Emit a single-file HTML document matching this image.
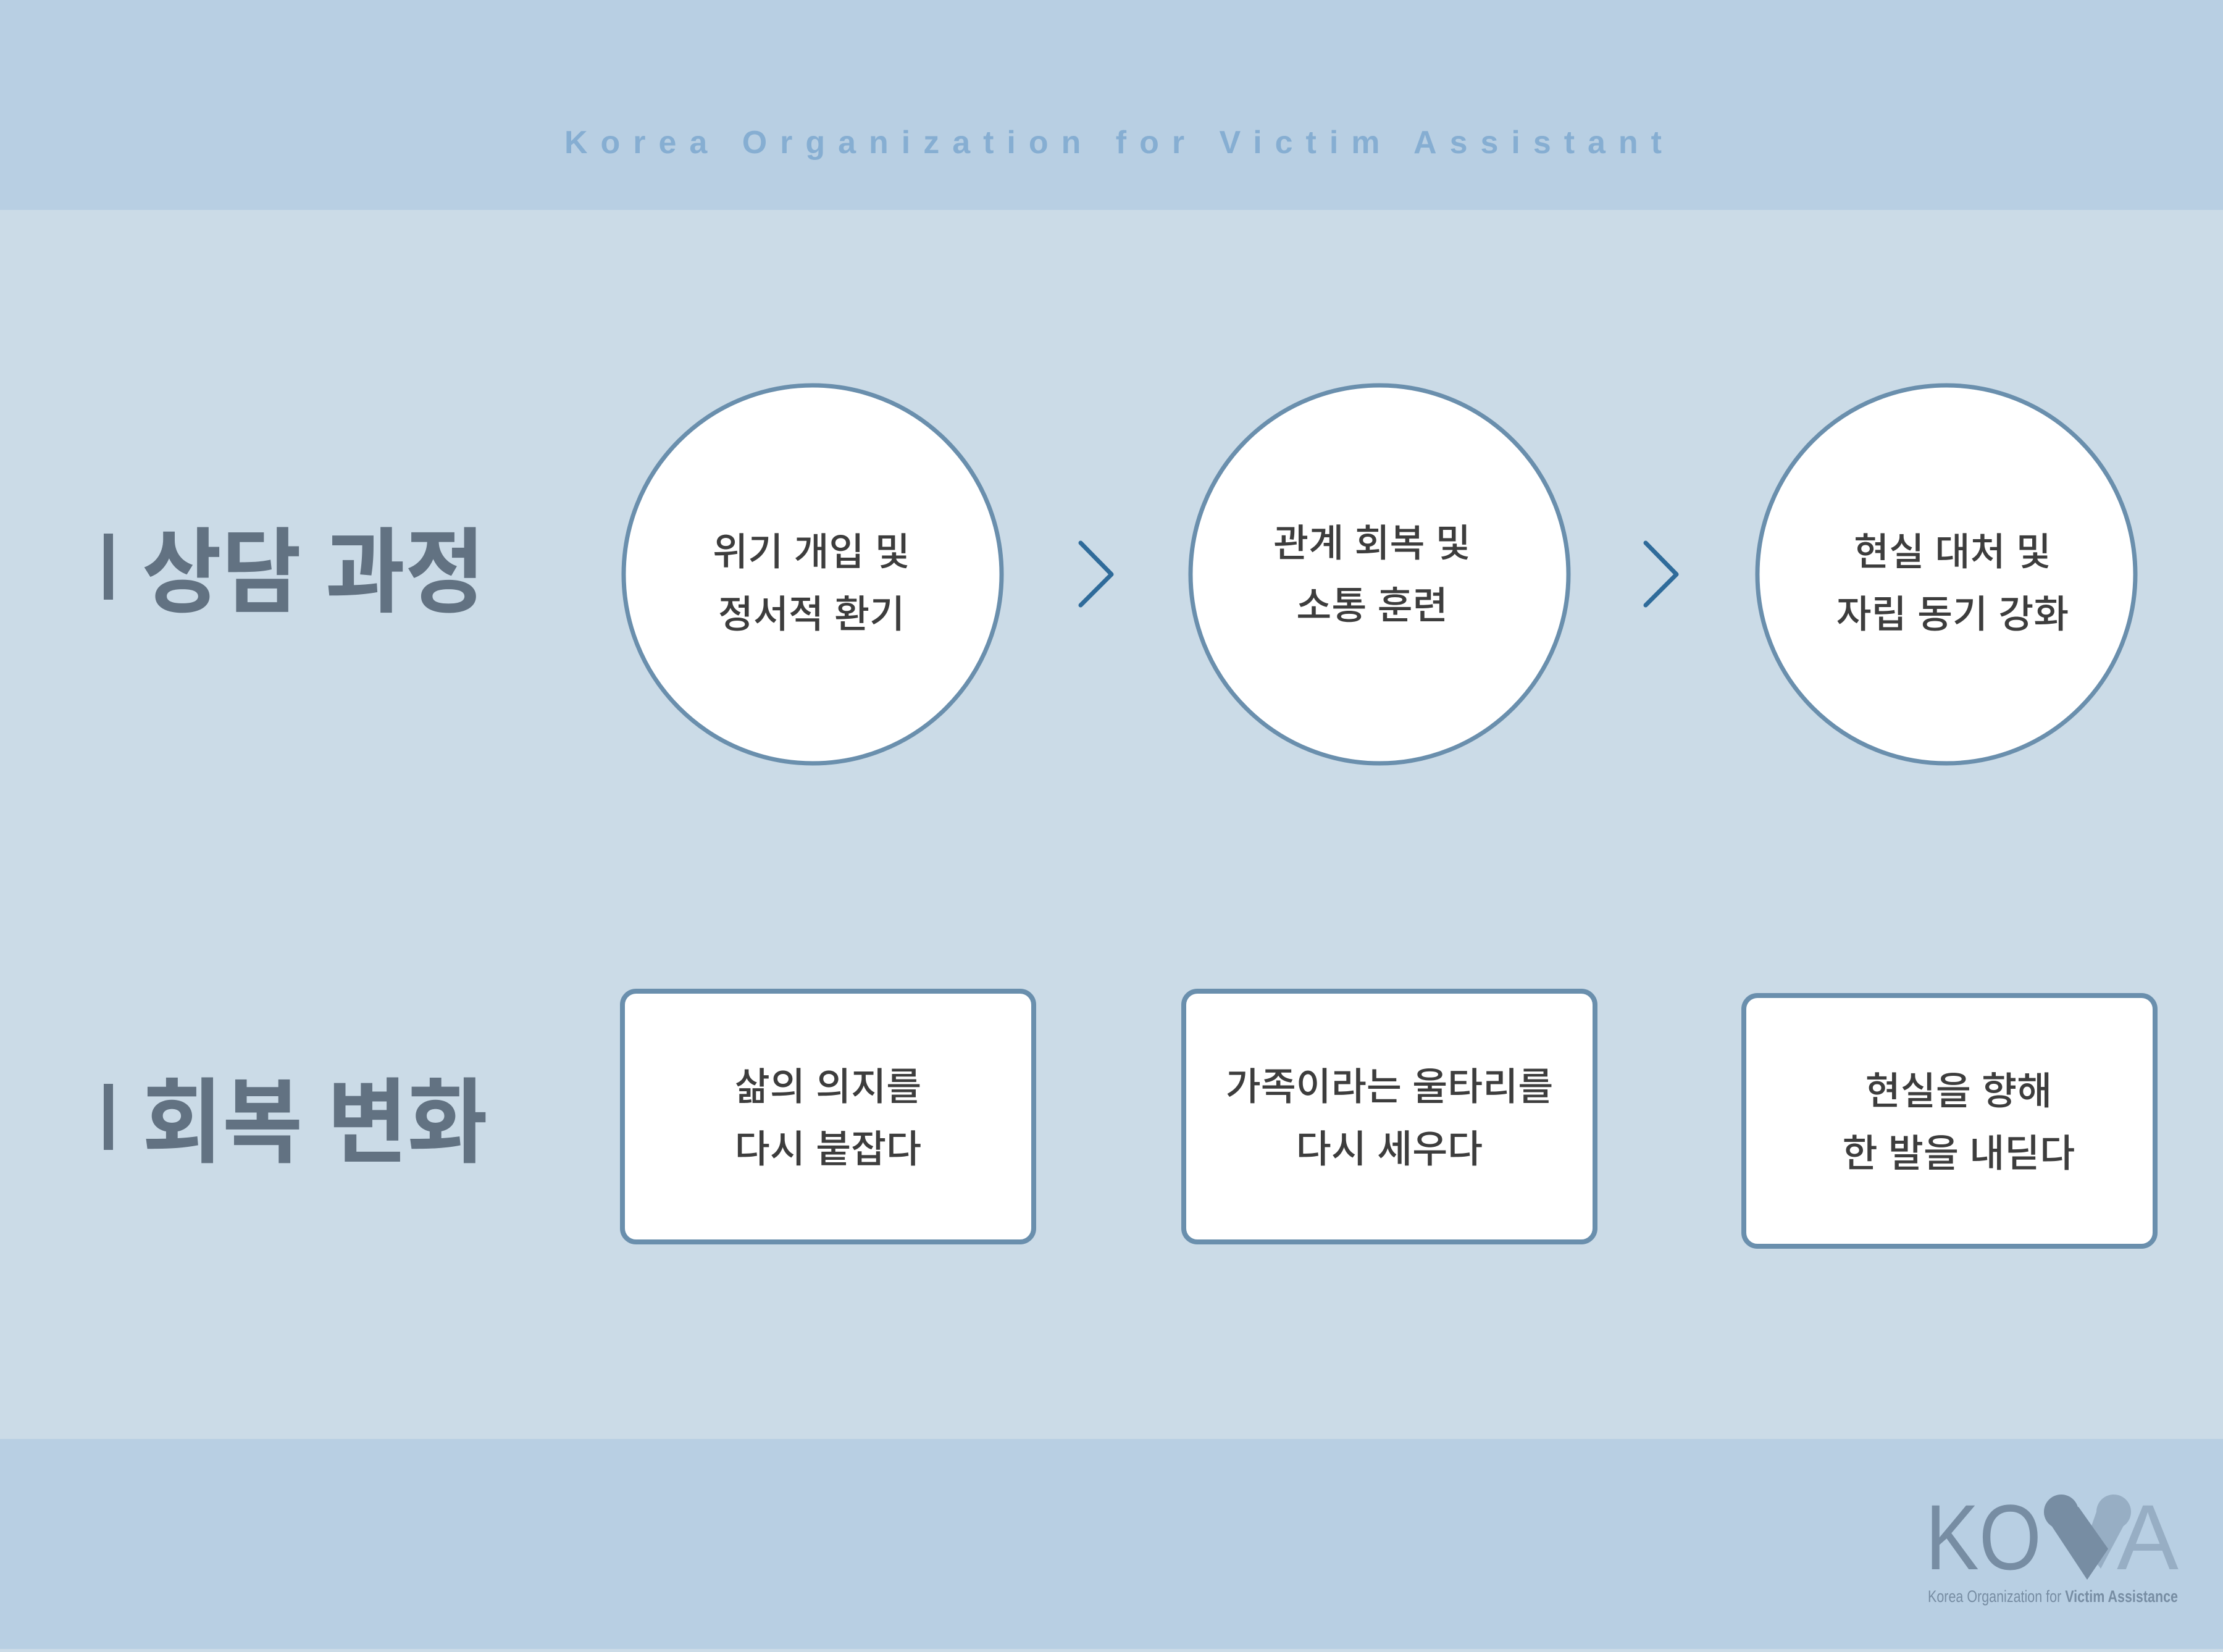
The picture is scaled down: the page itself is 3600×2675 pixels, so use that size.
<!DOCTYPE html>
<html><head><meta charset="utf-8"><style>
html,body{margin:0;padding:0;}
body{width:3600px;height:2670px;overflow:hidden;background:#cbdbe7;}
svg text{font-family:"Liberation Sans","Noto Sans CJK KR",sans-serif;}
</style></head><body>
<svg width="3600" height="2670" viewBox="0 0 3600 2670" xmlns="http://www.w3.org/2000/svg">
<rect x="0" y="0" width="3600" height="340" fill="#b8cfe3"/>
<rect x="0" y="340" width="3600" height="1990" fill="#cbdbe7"/>
<rect x="0" y="2330" width="3600" height="340" fill="#b8cfe3"/>
<text x="914" y="248" font-size="52" font-weight="bold" fill="#86aed2" textLength="1777" lengthAdjust="spacing">Korea Organization for Victim Assistant</text>

<g fill="#627282" font-weight="bold" font-size="150">
<rect x="168" y="864" width="15" height="107"/>
<text x="230" y="979" textLength="555" lengthAdjust="spacingAndGlyphs">상담 과정</text>
<rect x="168" y="1755" width="15" height="107"/>
<text x="230" y="1870" textLength="560" lengthAdjust="spacingAndGlyphs">회복 변화</text>
</g>

<g fill="#fff" stroke="#6a8fad" stroke-width="7">
<circle cx="1316" cy="930" r="306"/>
<circle cx="2234" cy="930" r="306"/>
<circle cx="3152" cy="930" r="306"/>
<rect x="1008" y="1605" width="666" height="406" rx="22" stroke-width="8"/>
<rect x="1917" y="1605" width="666" height="406" rx="22" stroke-width="8"/>
<rect x="2824" y="1612" width="666" height="406" rx="22" stroke-width="8"/>
</g>
<g fill="none" stroke="#2f6b9a" stroke-width="7" stroke-linecap="round" stroke-linejoin="round">
<polyline points="1750,879 1800,930 1750,980"/>
<polyline points="2665,879 2715,930 2665,980"/>
</g>

<g fill="#3d3d3d" font-size="62" font-weight="500" text-anchor="middle">
<text x="1314" y="915">위기 개입 및</text>
<text x="1314" y="1016">정서적 환기</text>
<text x="2222" y="901">관계 회복 및</text>
<text x="2222" y="1002">소통 훈련</text>
<text x="3162" y="915">현실 대처 및</text>
<text x="3162" y="1016">자립 동기 강화</text>
<text x="1341" y="1781">삶의 의지를</text>
<text x="1341" y="1882">다시 붙잡다</text>
<text x="2250" y="1781">가족이라는 울타리를</text>
<text x="2250" y="1882">다시 세우다</text>
<text x="3172" y="1788">현실을 향해</text>
<text x="3172" y="1889">한 발을 내딛다</text>
</g>

<g>
<text x="3118" y="2541" font-size="150" fill="#778da3" textLength="188" lengthAdjust="spacingAndGlyphs">KO</text>
<circle cx="3423" cy="2448" r="28" fill="#97aec4"/>
<polygon points="3395,2448 3451,2448 3402,2540 3375,2505" fill="#97aec4"/>
<circle cx="3338" cy="2448" r="28" fill="#778da3"/>
<polygon points="3310,2452 3366,2440 3414,2508 3380,2558" fill="#778da3"/>
<text x="3428" y="2541" font-size="150" fill="#97aec4" textLength="100" lengthAdjust="spacingAndGlyphs">A</text>
<text x="3122" y="2594" font-size="27" fill="#778da3" textLength="405" lengthAdjust="spacingAndGlyphs">Korea Organization for <tspan font-weight="bold">Victim Assistance</tspan></text>
</g>
</svg>
</body></html>
